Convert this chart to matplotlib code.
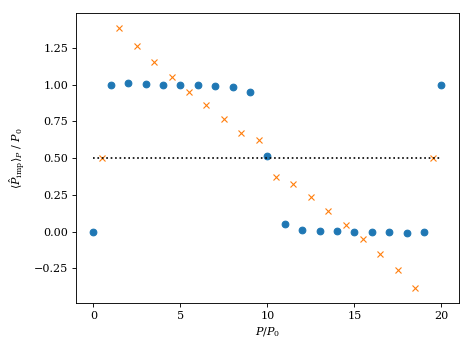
import numpy as np
import matplotlib
matplotlib.use("Agg")
import matplotlib.pyplot as plt

matplotlib.rc('font', family='serif', serif=['DejaVu Serif'])
matplotlib.rc('mathtext', fontset='dejavuserif')

# ---------------- DATA ----------------
p_int = [0, 1, 2, 3, 4, 5, 6, 7, 8, 9, 10,
         11, 12, 13, 14, 15, 16, 17, 18, 19, 20]
imp_int = [0.0, 1.0, 1.011, 1.002, 1.0, 1.0, 0.998, 0.993, 0.984, 0.948, 0.516,
           0.052, 0.014, 0.005, 0.002, 0.0, 0.0, -0.002, -0.011, 0.0, 1.0]

p_half = [0.5, 1.5, 2.5, 3.5, 4.5, 5.5, 6.5, 7.5, 8.5, 9.5,
          10.5, 11.5, 12.5, 13.5, 14.5, 15.5, 16.5, 17.5, 18.5, 19.5]
imp_half = [0.5, 1.386, 1.261, 1.152, 1.052, 0.95, 0.859, 0.766, 0.668, 0.623,
            0.375, 0.327, 0.234, 0.141, 0.048, -0.05, -0.152, -0.261, -0.384, 0.5]

ref_x = [0, 20]
ref_y = [0.5, 0.5]

# ---------------- FIGURE ----------------
fig = plt.figure(figsize=(5.9, 4.425), dpi=80)
ax = fig.add_subplot(111)
fig.subplots_adjust(left=0.161, right=0.972, bottom=0.144, top=0.963)

ax.plot(p_int, imp_int, 'o', color='C0')
ax.plot(p_half, imp_half, 'x', color='C1')
ax.plot(ref_x, ref_y, 'k:')

ax.set_xlim(-1, 21)
ax.set_ylim(-0.486, 1.487)
ax.set_xticks([0, 5, 10, 15, 20])
ax.set_yticks([-0.25, 0.0, 0.25, 0.5, 0.75, 1.0, 1.25])

ax.set_xlabel(r'$P/P_0$')
ax.set_ylabel(r'$\langle\hat{P}_{\rm imp}\rangle_P\ /\ P_0$')
ax.xaxis.set_label_coords(0.5, -0.076)
ax.yaxis.set_label_coords(-0.128, 0.5)

fig.savefig("out.png", dpi=80)
